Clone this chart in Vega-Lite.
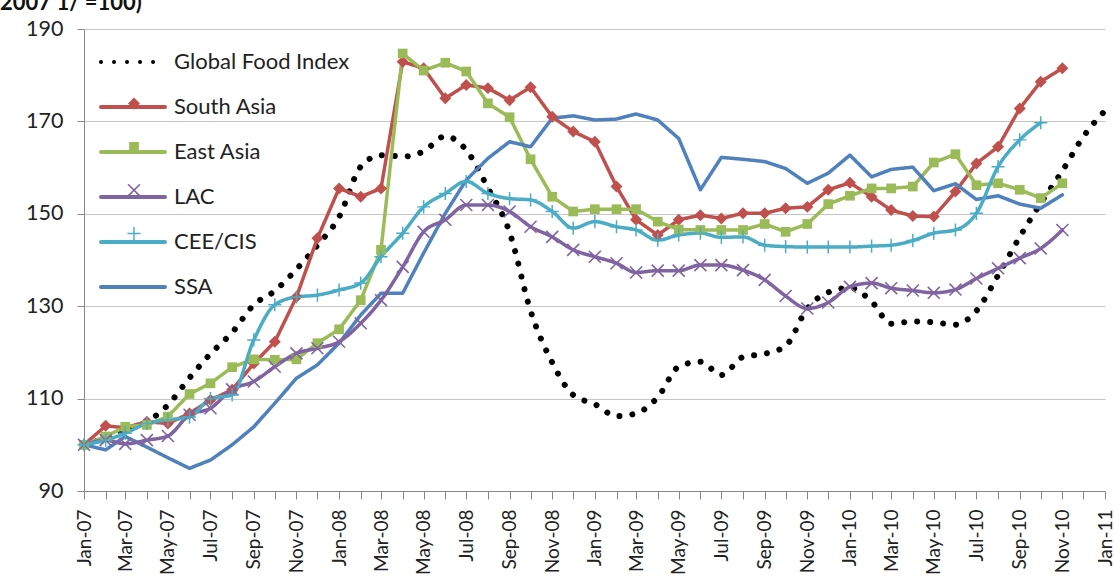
{
  "$schema": "https://vega.github.io/schema/vega-lite/v6.json",
  "width": 1021,
  "height": 462,
  "autosize": {"type": "none"},
  "padding": {"left": 84, "top": 29, "right": 9, "bottom": 92},
  "background": "white",
  "config": {"view": {"stroke": null}, "font": "Lato"},
  "title": {"text": "2007 1/ =100)", "anchor": "start", "frame": "group", "fontSize": 22, "fontWeight": "bold", "font": "Lato", "color": "#111111", "dx": -84, "offset": 0, "baseline": "alphabetic", "dy": 14},
  "data": {"values": [
    {"date": "2007-01-01", "Global Food Index": 100, "South Asia": 100, "East Asia": 100, "LAC": 100, "CEE/CIS": 100, "SSA": 100},
    {"date": "2007-02-01", "Global Food Index": 101.5, "South Asia": 104.1, "East Asia": 101.8, "LAC": 101, "CEE/CIS": 101, "SSA": 98.9},
    {"date": "2007-03-01", "Global Food Index": 103.2, "South Asia": 103.7, "East Asia": 103.9, "LAC": 100.2, "CEE/CIS": 102.5, "SSA": 101.8},
    {"date": "2007-04-01", "Global Food Index": 105, "South Asia": 105, "East Asia": 104.3, "LAC": 101, "CEE/CIS": 104.6, "SSA": 99.5},
    {"date": "2007-05-01", "Global Food Index": 108.6, "South Asia": 104.6, "East Asia": 106.1, "LAC": 101.9, "CEE/CIS": 105.4, "SSA": 97.2},
    {"date": "2007-06-01", "Global Food Index": 114.5, "South Asia": 106.8, "East Asia": 111, "LAC": 106.5, "CEE/CIS": 106, "SSA": 94.9},
    {"date": "2007-07-01", "Global Food Index": 119.7, "South Asia": 109.7, "East Asia": 113.3, "LAC": 107.9, "CEE/CIS": 110, "SSA": 96.7},
    {"date": "2007-08-01", "Global Food Index": 124.3, "South Asia": 111.9, "East Asia": 116.8, "LAC": 112, "CEE/CIS": 110.8, "SSA": 100},
    {"date": "2007-09-01", "Global Food Index": 130.3, "South Asia": 117.6, "East Asia": 118.5, "LAC": 113.7, "CEE/CIS": 122.7, "SSA": 103.9},
    {"date": "2007-10-01", "Global Food Index": 133.3, "South Asia": 122.3, "East Asia": 118.4, "LAC": 116.9, "CEE/CIS": 130.3, "SSA": 109},
    {"date": "2007-11-01", "Global Food Index": 138, "South Asia": 132, "East Asia": 118.5, "LAC": 119.8, "CEE/CIS": 132, "SSA": 114.4},
    {"date": "2007-12-01", "Global Food Index": 143.2, "South Asia": 144.7, "East Asia": 122, "LAC": 120.9, "CEE/CIS": 132.4, "SSA": 117.3},
    {"date": "2008-01-01", "Global Food Index": 149.3, "South Asia": 155.5, "East Asia": 125, "LAC": 122.3, "CEE/CIS": 133.5, "SSA": 122},
    {"date": "2008-02-01", "Global Food Index": 160.2, "South Asia": 153.7, "East Asia": 131.3, "LAC": 126.3, "CEE/CIS": 135, "SSA": 128.1},
    {"date": "2008-03-01", "Global Food Index": 162.7, "South Asia": 155.5, "East Asia": 142.2, "LAC": 131.3, "CEE/CIS": 140.7, "SSA": 132.8},
    {"date": "2008-04-01", "Global Food Index": 162.4, "South Asia": 182.9, "East Asia": 184.7, "LAC": 138.5, "CEE/CIS": 145.8, "SSA": 132.8},
    {"date": "2008-05-01", "Global Food Index": 163.5, "South Asia": 181.5, "East Asia": 181, "LAC": 146.1, "CEE/CIS": 151.5, "SSA": 141.5},
    {"date": "2008-06-01", "Global Food Index": 166.8, "South Asia": 175, "East Asia": 182.7, "LAC": 148.7, "CEE/CIS": 154.4, "SSA": 150.1},
    {"date": "2008-07-01", "Global Food Index": 163.8, "South Asia": 177.9, "East Asia": 180.8, "LAC": 151.9, "CEE/CIS": 157, "SSA": 157.3},
    {"date": "2008-08-01", "Global Food Index": 155.6, "South Asia": 177.2, "East Asia": 173.9, "LAC": 151.9, "CEE/CIS": 154.4, "SSA": 162},
    {"date": "2008-09-01", "Global Food Index": 146, "South Asia": 174.6, "East Asia": 170.9, "LAC": 150.5, "CEE/CIS": 153.3, "SSA": 165.6},
    {"date": "2008-10-01", "Global Food Index": 129, "South Asia": 177.4, "East Asia": 161.8, "LAC": 147.2, "CEE/CIS": 153, "SSA": 164.5},
    {"date": "2008-11-01", "Global Food Index": 117.8, "South Asia": 171, "East Asia": 153.7, "LAC": 145, "CEE/CIS": 150.5, "SSA": 170.7},
    {"date": "2008-12-01", "Global Food Index": 110.8, "South Asia": 167.8, "East Asia": 150.5, "LAC": 142.2, "CEE/CIS": 146.9, "SSA": 171.2},
    {"date": "2009-01-01", "Global Food Index": 108.8, "South Asia": 165.6, "East Asia": 151, "LAC": 140.7, "CEE/CIS": 148.3, "SSA": 170.3},
    {"date": "2009-02-01", "Global Food Index": 106.2, "South Asia": 155.9, "East Asia": 151, "LAC": 139.3, "CEE/CIS": 147.2, "SSA": 170.5},
    {"date": "2009-03-01", "Global Food Index": 106.8, "South Asia": 148.7, "East Asia": 151, "LAC": 137.3, "CEE/CIS": 146.5, "SSA": 171.6},
    {"date": "2009-04-01", "Global Food Index": 110.3, "South Asia": 145.4, "East Asia": 148.3, "LAC": 137.7, "CEE/CIS": 144.3, "SSA": 170.3},
    {"date": "2009-05-01", "Global Food Index": 116.9, "South Asia": 148.7, "East Asia": 146.6, "LAC": 137.7, "CEE/CIS": 145.4, "SSA": 166.3},
    {"date": "2009-06-01", "Global Food Index": 118, "South Asia": 149.7, "East Asia": 146.5, "LAC": 138.9, "CEE/CIS": 145.8, "SSA": 155.2},
    {"date": "2009-07-01", "Global Food Index": 115.1, "South Asia": 149, "East Asia": 146.5, "LAC": 138.9, "CEE/CIS": 144.9, "SSA": 162.2},
    {"date": "2009-08-01", "Global Food Index": 119, "South Asia": 150.1, "East Asia": 146.5, "LAC": 137.8, "CEE/CIS": 145, "SSA": 161.8},
    {"date": "2009-09-01", "Global Food Index": 119.7, "South Asia": 150.1, "East Asia": 147.8, "LAC": 135.7, "CEE/CIS": 143.2, "SSA": 161.3},
    {"date": "2009-10-01", "Global Food Index": 121.4, "South Asia": 151.2, "East Asia": 146.1, "LAC": 132.2, "CEE/CIS": 142.9, "SSA": 159.8},
    {"date": "2009-11-01", "Global Food Index": 129.5, "South Asia": 151.5, "East Asia": 147.8, "LAC": 129.5, "CEE/CIS": 142.8, "SSA": 156.6},
    {"date": "2009-12-01", "Global Food Index": 133, "South Asia": 155.2, "East Asia": 152.1, "LAC": 130.8, "CEE/CIS": 142.8, "SSA": 158.8},
    {"date": "2010-01-01", "Global Food Index": 134, "South Asia": 156.7, "East Asia": 153.9, "LAC": 134.2, "CEE/CIS": 142.8, "SSA": 162.7},
    {"date": "2010-02-01", "Global Food Index": 131, "South Asia": 153.7, "East Asia": 155.5, "LAC": 135, "CEE/CIS": 143, "SSA": 158},
    {"date": "2010-03-01", "Global Food Index": 126.2, "South Asia": 150.8, "East Asia": 155.5, "LAC": 133.9, "CEE/CIS": 143.2, "SSA": 159.6},
    {"date": "2010-04-01", "Global Food Index": 126.7, "South Asia": 149.5, "East Asia": 155.9, "LAC": 133.4, "CEE/CIS": 144.2, "SSA": 160.1},
    {"date": "2010-05-01", "Global Food Index": 126.5, "South Asia": 149.4, "East Asia": 161.1, "LAC": 132.9, "CEE/CIS": 145.8, "SSA": 155},
    {"date": "2010-06-01", "Global Food Index": 126, "South Asia": 154.8, "East Asia": 162.9, "LAC": 133.6, "CEE/CIS": 146.5, "SSA": 156.5},
    {"date": "2010-07-01", "Global Food Index": 129, "South Asia": 160.9, "East Asia": 156.2, "LAC": 136, "CEE/CIS": 150.1, "SSA": 153.1},
    {"date": "2010-08-01", "Global Food Index": 136.7, "South Asia": 164.5, "East Asia": 156.6, "LAC": 138.2, "CEE/CIS": 160.2, "SSA": 153.9},
    {"date": "2010-09-01", "Global Food Index": 145, "South Asia": 172.8, "East Asia": 155.2, "LAC": 140.4, "CEE/CIS": 166, "SSA": 152.1},
    {"date": "2010-10-01", "Global Food Index": 152.3, "South Asia": 178.6, "East Asia": 153.4, "LAC": 142.5, "CEE/CIS": 169.7, "SSA": 151.2},
    {"date": "2010-11-01", "Global Food Index": 159.3, "South Asia": 181.5, "East Asia": 156.6, "LAC": 146.5, "SSA": 154.1},
    {"date": "2010-12-01", "Global Food Index": 166.7},
    {"date": "2011-01-01", "Global Food Index": 172.3}
  ]},
  "transform": [
    {"fold": ["Global Food Index", "South Asia", "East Asia", "LAC", "CEE/CIS", "SSA"], "as": ["series", "value"]},
    {"filter": "isValid(datum.value)"}
  ],
  "encoding": {
    "x": {
      "field": "date", "type": "temporal", "title": null,
      "scale": {"type": "utc", "nice": false, "domain": [{"year": 2007, "month": 1, "date": 1, "utc": true}, {"year": 2011, "month": 1, "date": 1, "utc": true}]},
      "axis": {"grid": false, "tickCount": {"interval": "month", "step": 1}, "labelExpr": "utcmonth(datum.value) % 2 == 0 ? utcFormat(datum.value, '%b-%y') : ''", "labelAngle": -90, "labelFontSize": 19, "labelFont": "Lato", "labelColor": "#222222", "labelPadding": 10, "tickSize": 8, "tickColor": "#868686", "domainColor": "#868686", "labelOverlap": false, "labelFlush": false, "labelBound": false}
    },
    "y": {
      "field": "value", "type": "quantitative", "title": null,
      "scale": {"domain": [90, 190], "nice": false, "zero": false},
      "axis": {"values": [90, 110, 130, 150, 170, 190], "grid": true, "gridColor": "#c6c6c6", "gridWidth": 1, "tickSize": 7, "tickColor": "#868686", "domainColor": "#868686", "labelFontSize": 21.5, "labelFont": "Lato", "labelColor": "#222222", "labelPadding": 14}
    }
  },
  "layer": [
    {
      "layer": [
        {
          "transform": [{"filter": {"field": "series", "oneOf": ["Global Food Index"]}}],
          "mark": {"type": "line", "interpolate": "monotone", "strokeWidth": 6, "strokeCap": "round", "strokeJoin": "round"},
          "encoding": {
            "color": {"field": "series", "type": "nominal", "scale": {"domain": ["Global Food Index", "South Asia", "East Asia", "LAC", "CEE/CIS", "SSA"], "range": ["#000000", "#C0504D", "#9BBB59", "#8064A2", "#4BACC6", "#4F81BD"]},
              "legend": {"orient": "none", "legendX": 15, "legendY": -1, "title": null, "symbolType": "stroke", "symbolSize": 4096, "symbolStrokeWidth": 4, "labelFontSize": 22, "labelFont": "Lato", "labelColor": "#222222", "labelOffset": 7, "labelLimit": 400, "rowPadding": -0.6, "padding": 0, "symbolOpacity": 1,
                "encoding": {"symbols": {"strokeCap": {"value": "round"}, "strokeWidth": {"signal": "datum.value === 'Global Food Index' ? 5.5 : 4"}}}}},
            "strokeDash": {"field": "series", "type": "nominal", "scale": {"domain": ["Global Food Index", "South Asia", "East Asia", "LAC", "CEE/CIS", "SSA"], "range": [[0.01, 13], [1, 0], [1, 0], [1, 0], [1, 0], [1, 0]]},
              "legend": {"orient": "none", "legendX": 15, "legendY": -1, "title": null}}
          }
        },
        {
          "transform": [{"filter": {"field": "series", "oneOf": ["South Asia", "East Asia", "SSA"]}}],
          "mark": {"type": "line", "interpolate": "linear", "strokeWidth": 3.5, "strokeCap": "round", "strokeJoin": "round"},
          "encoding": {
            "color": {"field": "series", "type": "nominal", "scale": {"domain": ["Global Food Index", "South Asia", "East Asia", "LAC", "CEE/CIS", "SSA"], "range": ["#000000", "#C0504D", "#9BBB59", "#8064A2", "#4BACC6", "#4F81BD"]},
              "legend": {"orient": "none", "legendX": 15, "legendY": -1, "title": null, "symbolType": "stroke", "symbolSize": 4096, "symbolStrokeWidth": 4, "labelFontSize": 22, "labelFont": "Lato", "labelColor": "#222222", "labelOffset": 7, "labelLimit": 400, "rowPadding": -0.6, "padding": 0, "symbolOpacity": 1,
                "encoding": {"symbols": {"strokeCap": {"value": "round"}, "strokeWidth": {"signal": "datum.value === 'Global Food Index' ? 5.5 : 4"}}}}},
            "strokeDash": {"field": "series", "type": "nominal", "scale": {"domain": ["Global Food Index", "South Asia", "East Asia", "LAC", "CEE/CIS", "SSA"], "range": [[0.01, 13], [1, 0], [1, 0], [1, 0], [1, 0], [1, 0]]},
              "legend": {"orient": "none", "legendX": 15, "legendY": -1, "title": null}}
          }
        },
        {
          "transform": [{"filter": {"field": "series", "oneOf": ["LAC", "CEE/CIS"]}}],
          "mark": {"type": "line", "interpolate": "monotone", "strokeWidth": 3.5, "strokeCap": "round", "strokeJoin": "round"},
          "encoding": {
            "color": {"field": "series", "type": "nominal", "scale": {"domain": ["Global Food Index", "South Asia", "East Asia", "LAC", "CEE/CIS", "SSA"], "range": ["#000000", "#C0504D", "#9BBB59", "#8064A2", "#4BACC6", "#4F81BD"]},
              "legend": {"orient": "none", "legendX": 15, "legendY": -1, "title": null, "symbolType": "stroke", "symbolSize": 4096, "symbolStrokeWidth": 4, "labelFontSize": 22, "labelFont": "Lato", "labelColor": "#222222", "labelOffset": 7, "labelLimit": 400, "rowPadding": -0.6, "padding": 0, "symbolOpacity": 1,
                "encoding": {"symbols": {"strokeCap": {"value": "round"}, "strokeWidth": {"signal": "datum.value === 'Global Food Index' ? 5.5 : 4"}}}}},
            "strokeDash": {"field": "series", "type": "nominal", "scale": {"domain": ["Global Food Index", "South Asia", "East Asia", "LAC", "CEE/CIS", "SSA"], "range": [[0.01, 13], [1, 0], [1, 0], [1, 0], [1, 0], [1, 0]]},
              "legend": {"orient": "none", "legendX": 15, "legendY": -1, "title": null}}
          }
        }
      ]
    },
    {
      "transform": [{"filter": {"field": "series", "oneOf": ["South Asia", "East Asia", "LAC", "CEE/CIS"]}}],
      "mark": {"type": "point", "filled": true, "opacity": 1, "size": 130, "strokeWidth": 0},
      "encoding": {
        "color": {"field": "series", "type": "nominal", "scale": {"domain": ["Global Food Index", "South Asia", "East Asia", "LAC", "CEE/CIS", "SSA"], "range": ["#000000", "#C0504D", "#9BBB59", "#8064A2", "#4BACC6", "#4F81BD"]},
          "legend": {"orient": "none", "legendX": 39, "legendY": 20, "title": null, "symbolSize": 130, "labelFontSize": 22, "labelFont": "Lato", "labelExpr": "''", "labelOffset": 7, "labelLimit": 400, "rowPadding": 21.4, "padding": 0, "symbolOpacity": 1, "symbolStrokeWidth": 0}},
        "shape": {"field": "series", "type": "nominal", "scale": {"domain": ["Global Food Index", "South Asia", "East Asia", "LAC", "CEE/CIS", "SSA"], "range": ["M0,0", "M0,-1.05L1.05,0L0,1.05L-1.05,0Z", "M-0.85,-0.85H0.85V0.85H-0.85Z", "M-0.95,-1.15L1.15,0.95L0.95,1.15L-1.15,-0.95Z M0.95,-1.15L1.15,-0.95L-0.95,1.15L-1.15,0.95Z", "M-1.15,-0.13L1.15,-0.13L1.15,0.13L-1.15,0.13Z M-0.13,-1.15L0.13,-1.15L0.13,1.15L-0.13,1.15Z", "M0,0"]},
          "legend": {"orient": "none", "legendX": 39, "legendY": 20, "title": null, "symbolSize": 130, "labelFontSize": 22, "labelFont": "Lato", "labelExpr": "''", "labelOffset": 7, "labelLimit": 400, "rowPadding": 21.4, "padding": 0, "symbolOpacity": 1, "symbolStrokeWidth": 0}}
      }
    }
  ],
  "resolve": {"legend": {"color": "independent", "shape": "independent", "strokeDash": "independent"}}
}
